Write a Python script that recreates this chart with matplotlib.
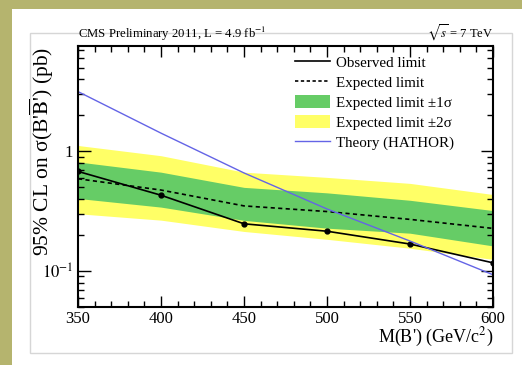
import numpy as np
import matplotlib
matplotlib.use("Agg")
import matplotlib.pyplot as plt
from matplotlib.patches import Rectangle
from matplotlib.lines import Line2D
from matplotlib.ticker import FixedLocator, NullFormatter

plt.rcParams['font.family'] = ['Liberation Serif', 'DejaVu Serif']
plt.rcParams['mathtext.fontset'] = 'stix'

# B' mass points (GeV/c^2)
mass = [350, 400, 450, 500, 550, 600]

# limits in pb
observed = [0.68, 0.43, 0.248, 0.215, 0.168, 0.117]
expected = [0.59, 0.475, 0.35, 0.314, 0.27, 0.227]
band1_lo = [0.404, 0.342, 0.265, 0.228, 0.207, 0.162]
band1_hi = [0.816, 0.67, 0.50, 0.45, 0.39, 0.32]
band2_lo = [0.301, 0.266, 0.214, 0.184, 0.155, 0.125]
band2_hi = [1.12, 0.92, 0.67, 0.606, 0.54, 0.436]
theory = [3.16, 1.42, 0.66, 0.33, 0.178, 0.093]

green = '#66cc66'
yellow = '#ffff66'
blue = '#6464e6'

fig = plt.figure(figsize=(5.22, 3.65), dpi=100)
fig.patch.set_facecolor('#b5b46e')

# white slide panel with a faint inner frame
fig.patches.append(Rectangle((12 / 522, 0), 1, 1 - 9 / 365, transform=fig.transFigure,
                             facecolor='white', edgecolor='none', zorder=-10))
fig.patches.append(Rectangle((30 / 522, 1 - 353 / 365), 482 / 522, 320 / 365,
                             transform=fig.transFigure, facecolor='none',
                             edgecolor='#d6d6d6', lw=1.0, zorder=-9))

ax = fig.add_axes([78 / 522, 1 - 307 / 365, 415 / 522, 261 / 365])

ax.fill_between(mass, band2_lo, band2_hi, color=yellow, lw=0)
ax.fill_between(mass, band1_lo, band1_hi, color=green, lw=0)
ax.plot(mass, expected, color='black', lw=1.2, ls=(0, (2.5, 2)))
ax.plot(mass, observed, color='black', lw=1.2, marker='o', ms=3.5)
ax.plot(mass, theory, color=blue, lw=1.0)

ax.set_yscale('log')
ax.set_xlim(350, 600)
ax.set_ylim(0.05, 7.6)

ax.set_xticks([350, 400, 450, 500, 550, 600])
ax.xaxis.set_minor_locator(FixedLocator(np.arange(350, 601, 10)))
ax.set_yticks([0.1, 1])
ax.set_yticklabels([r'$10^{-1}$', '1'])
yminor = [v * d for d in (0.01, 0.1, 1) for v in range(2, 10)]
ax.yaxis.set_minor_locator(FixedLocator(yminor))
ax.yaxis.set_minor_formatter(NullFormatter())

ax.tick_params(which='both', direction='in', top=True, right=True, width=1.0)
ax.tick_params(which='major', axis='x', length=8)
ax.tick_params(which='minor', axis='x', length=4)
ax.tick_params(which='major', axis='y', length=9)
ax.tick_params(which='minor', axis='y', length=4.5)
ax.tick_params(axis='both', labelsize=12)
ax.tick_params(axis='x', pad=3)
for s in ax.spines.values():
    s.set_linewidth(1.5)

ax.set_xlabel(r"M(B') (GeV/c$^{2}$)", fontsize=13, loc='right')
ax.xaxis.set_label_coords(1.0, -0.073)
ax.set_ylabel(r"95% CL on σ(B'$\overline{\mathrm{B}}$') (pb)", fontsize=15.5)
ax.yaxis.set_label_coords(-0.054, 0.595)

ax.text(0.0, 1.012, r"CMS Preliminary 2011, L = 4.9 fb$^{-1}$", transform=ax.transAxes,
        fontsize=9.2, ha='left', va='bottom')
ax.text(1.0, 1.012, r"$\sqrt{s}$ = 7 TeV", transform=ax.transAxes,
        fontsize=9, ha='right', va='bottom')

handles = [
    Line2D([], [], color='black', lw=1.2),
    Line2D([], [], color='black', lw=1.2, ls=(0, (2, 1.5))),
    Rectangle((0, 0), 1, 1, facecolor=green, edgecolor='none'),
    Rectangle((0, 0), 1, 1, facecolor=yellow, edgecolor='none'),
    Line2D([], [], color=blue, lw=1.0),
]
labels = ['Observed limit', 'Expected limit', 'Expected limit ±1σ',
          'Expected limit ±2σ', 'Theory (HATHOR)']
ax.legend(handles, labels, loc='upper left', bbox_to_anchor=(0.523, 0.9655),
          frameon=False, fontsize=10.8, handlelength=2.33, handleheight=0.93,
          labelspacing=0.37, handletextpad=0.4, borderaxespad=0, borderpad=0)

fig.savefig('out.png', dpi=100, facecolor=fig.get_facecolor())
